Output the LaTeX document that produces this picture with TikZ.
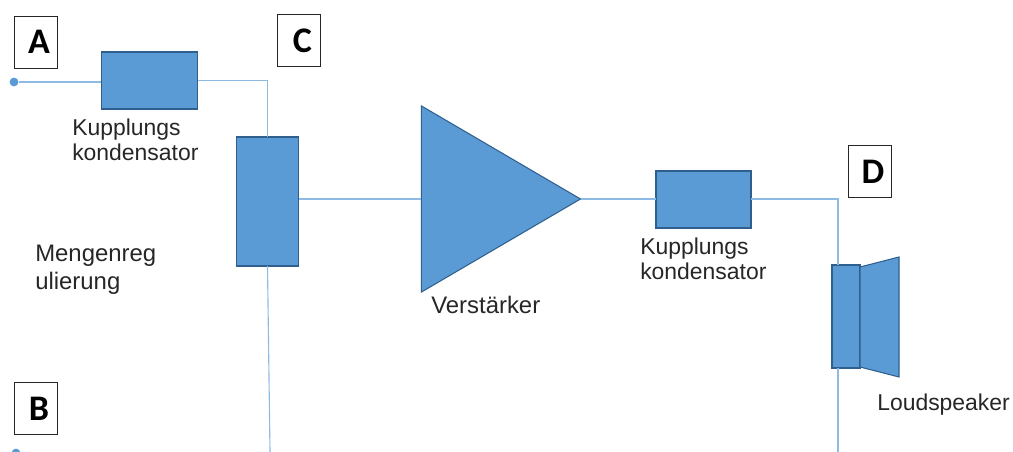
\documentclass[tikz,border=0pt]{standalone}
\usepackage{fontspec}
\setmainfont{Liberation Sans}
\newfontfamily\tagfont{Carlito}[Scale=1]
\usetikzlibrary{shapes.geometric,positioning}
\newcommand{\TagText}[1]{\raisebox{-4.5pt}{\hspace*{5pt}#1}}

\begin{document}
\begin{tikzpicture}[x=0.025cm, y=-0.025cm]
	\tikzstyle{Part}	= [rectangle, draw=partedge, fill=partblue, line width=0.75pt, inner sep=0pt, outer sep=0pt]
	\tikzstyle{Wire}	= [draw=wireblue, line width=0.8pt]
	\tikzstyle{Tag}		= [rectangle, draw=black!85, fill=white, line width=0.6pt, inner sep=0pt, minimum width=1.075cm, minimum height=1.3cm, font=\tagfont\fontsize{25.6}{28}\bfseries\selectfont]
	\tikzstyle{Caption}	= [align=left, inner sep=0pt, text=black!85, font=\fontsize{16.3}{17.8}\selectfont]
	\tikzstyle{Wide}	= [font=\fontsize{17}{19.6}\selectfont]
	\tikzstyle{Dot}		= [circle, fill=partblue, inner sep=0pt, minimum size=0.22cm]

	\definecolor{partblue}{HTML}{5B9BD5}
	\definecolor{partedge}{HTML}{2F5F8C}
	\definecolor{wireblue}{HTML}{8DBBE6}

	\path [use as bounding box, clip] (0,0) rectangle (1013,452);

	\node (tagA) at (35.5, 42) [Tag] {\TagText{A}};
	\node (tagB) at (35.5, 408.5) [Tag] {\TagText{B}};
	\node (tagC) at (299, 40.5) [Tag] {\TagText{C}};
	\node (tagD) at (869.5, 171.5) [Tag] {\TagText{D}};

	\node (dotA) at (14, 82) [Dot] {};
	\node (dotB) at (16, 453) [Dot] {};
	\coordinate (endC) at (270, 452);
	\coordinate (endD) at (838, 452);

	\node (coupleA) at (149.5, 80.5) [Part, minimum width=2.4cm, minimum height=1.425cm] {};
	\node (volume) at (267.5, 201.5) [Part, minimum width=1.55cm, minimum height=3.225cm] {};
	\node (amp) at (580.5, 199) [Part, anchor=apex, isosceles triangle, isosceles triangle stretches, minimum width=4.65cm, minimum height=3.975cm] {};
	\node (coupleB) at (703.5, 199.5) [Part, minimum width=2.375cm, minimum height=1.425cm] {};
	\node (driver) at (846, 316.5) [Part, minimum width=0.7cm, minimum height=2.575cm] {};

	\draw [Part] (860, 267) -- (899, 257) -- (899, 377) -- (860, 367) -- cycle;

	\draw [Wire] (dotA) -- (dotA -| coupleA.west);
	\draw [Wire] (coupleA.east) -| (volume.north);
	\draw [Wire] (volume.south) -- (endC);
	\draw [Wire] (volume.east |- amp.west) -- (amp.west);
	\draw [Wire] (amp.apex) -- (amp.apex -| coupleB.west);
	\draw [Wire] (coupleB.east |- amp.apex) -| (driver.north -| endD);
	\draw [Wire] (driver.south -| endD) -- (endD);

	\node (textA) at (72, 140) [Caption, anchor=west] {Kupplungs\\kondensator};
	\node (textV) at (35, 269.5) [Caption, Wide, anchor=west] {Mengenreg\\ulierung};
	\node (textAmp) at (431, 305) [Caption, Wide, anchor=west] {Verstärker};
	\node (textB) at (640, 259) [Caption, anchor=west] {Kupplungs\\kondensator};
	\node (textL) at (877, 405) [Caption, anchor=west] {Loudspeaker};
\end{tikzpicture}
\end{document}
